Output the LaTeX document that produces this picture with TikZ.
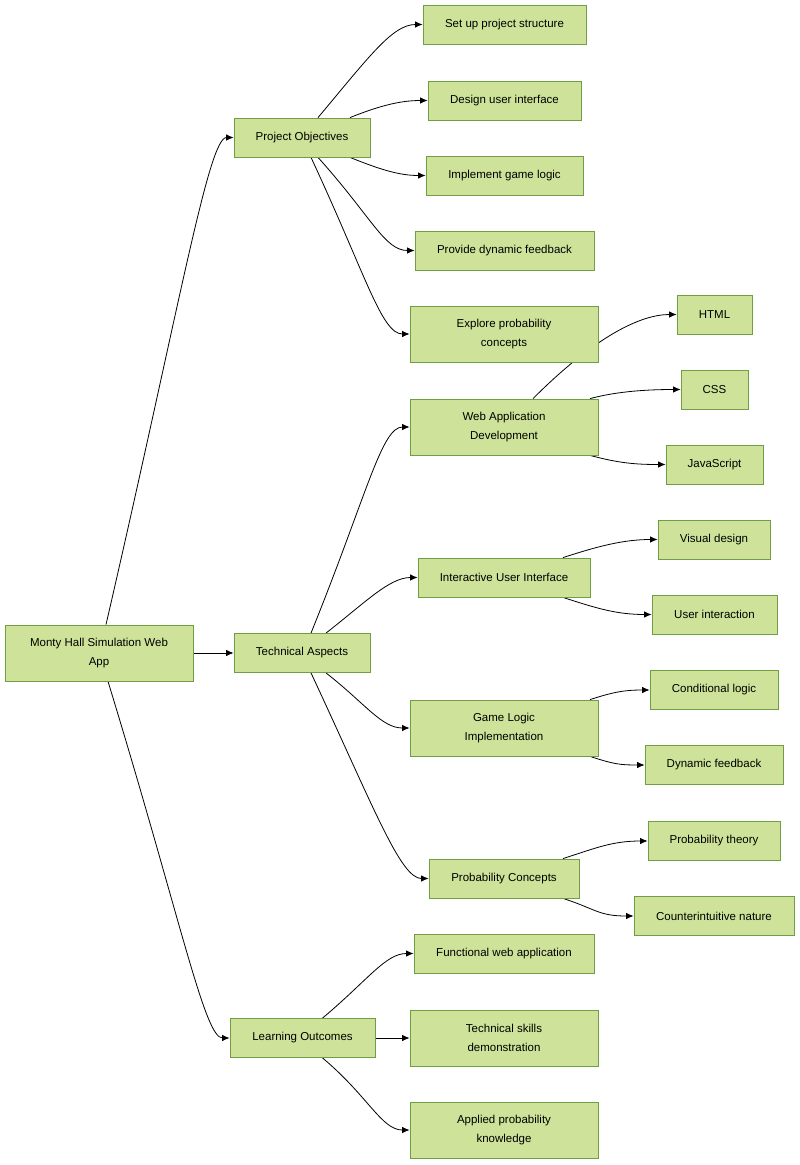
\documentclass[tikz,border=0pt]{standalone}
\usepackage{fontspec}
\setmainfont{Liberation Sans}
\usetikzlibrary{arrows.meta,backgrounds}
\definecolor{boxfill}{RGB}{206,227,153}
\definecolor{boxline}{RGB}{112,158,68}
\begin{document}
\begin{tikzpicture}[x=1pt, y=-1pt,
  box/.style={draw=boxline, fill=boxfill, line width=0.8pt, align=center, inner sep=0pt,
    minimum height=39pt, font=\fontsize{11.5}{18.5}\selectfont},
  tall/.style={minimum height=56pt},
  link/.style={draw=black, line width=0.8pt, -{Latex[length=7.5pt,width=6.5pt]}}]
\useasboundingbox (0,0) rectangle (800,1165);
\node[box, tall, minimum width=188pt] (n0) at (99,653){Monty Hall Simulation Web\\App};
\node[box, minimum width=136pt] (n1) at (302,137.5){Project Objectives};
\node[box, minimum width=136pt] (n2) at (302,653){Technical Aspects};
\node[box, minimum width=145pt] (n3) at (302.5,1038){Learning Outcomes};
% project objectives
\node[box, minimum width=163pt] (n4) at (504.5,24.5){Set up project structure};
\node[box, minimum width=153pt] (n5) at (504.5,100.5){Design user interface};
\node[box, minimum width=157pt] (n6) at (504.5,175.5){Implement game logic};
\node[box, minimum width=179pt] (n7) at (504.5,250.5){Provide dynamic feedback};
\node[box, tall, minimum width=188pt] (n8) at (504,334){Explore probability\\concepts};
% technical aspects
\node[box, tall, minimum width=188pt] (n9) at (504,427){Web Application\\Development};
\node[box, minimum width=75pt] (n10) at (714.5,314.5){HTML};
\node[box, minimum width=67pt] (n11) at (714.5,389.5){CSS};
\node[box, minimum width=97pt] (n12) at (714.5,464.5){JavaScript};
\node[box, minimum width=172pt] (n13) at (504,577.5){Interactive User Interface};
\node[box, minimum width=112pt] (n14) at (714,539.5){Visual design};
\node[box, minimum width=125pt] (n15) at (714.5,614.5){User interaction};
\node[box, tall, minimum width=188pt] (n16) at (504,728){Game Logic\\Implementation};
\node[box, minimum width=128pt] (n17) at (714,690){Conditional logic};
\node[box, minimum width=138pt] (n18) at (714,765){Dynamic feedback};
\node[box, minimum width=150pt] (n19) at (504,878.5){Probability Concepts};
\node[box, minimum width=132pt] (n20) at (714,841){Probability theory};
\node[box, minimum width=160pt] (n21) at (714,916){Counterintuitive nature};
% learning outcomes
\node[box, minimum width=180pt] (n22) at (504,953.5){Functional web application};
\node[box, tall, minimum width=188pt] (n23) at (504,1038){Technical skills\\demonstration};
\node[box, tall, minimum width=188pt] (n24) at (504,1130){Applied probability\\knowledge};
\begin{scope}[on background layer]
\draw[link] ([xshift=7]n0.north) to[out=77,in=180,out distance=330pt,in distance=25pt] (n1.west);
\draw[link] (n0.east) -- (n2.west);
\draw[link] ([xshift=9]n0.south) to[out=-73,in=180,out distance=250pt,in distance=25pt] (n3.west);
\draw[link] ([xshift=16]n1.north) to[out=50,in=180,out distance=80pt,in distance=30pt] (n4.west);
\draw[link] ([xshift=48]n1.north) to[out=22,in=180,out distance=35pt,in distance=25pt] (n5.west);
\draw[link] ([xshift=48]n1.south) to[out=-22,in=180,out distance=35pt,in distance=25pt] (n6.west);
\draw[link] ([xshift=16]n1.south) to[out=-48,in=180,out distance=80pt,in distance=30pt] (n7.west);
\draw[link] ([xshift=9]n1.south) to[out=-65,in=180,out distance=130pt,in distance=28pt] (n8.west);
\draw[link] ([xshift=9]n2.north) to[out=68,in=180,out distance=150pt,in distance=28pt] (n9.west);
\draw[link] ([xshift=24]n2.north) to[out=38,in=180,out distance=50pt,in distance=28pt] (n13.west);
\draw[link] ([xshift=24]n2.south) to[out=-38,in=180,out distance=50pt,in distance=28pt] (n16.west);
\draw[link] ([xshift=9]n2.south) to[out=-65,in=180,out distance=150pt,in distance=28pt] (n19.west);
\draw[link] ([xshift=29]n9.north) to[out=45,in=180,out distance=90pt,in distance=35pt] (n10.west);
\draw[link] ([xshift=86]n9.north) to[out=15,in=180,out distance=30pt,in distance=30pt] (n11.west);
\draw[link] ([xshift=86]n9.south) to[out=-15,in=180,out distance=30pt,in distance=30pt] (n12.west);
\draw[link] ([xshift=59]n13.north) to[out=18,in=180,out distance=35pt,in distance=35pt] (n14.west);
\draw[link] ([xshift=59]n13.south) to[out=-18,in=180,out distance=35pt,in distance=35pt] (n15.west);
\draw[link] ([xshift=86]n16.north) to[out=18,in=180,out distance=25pt,in distance=25pt] (n17.west);
\draw[link] ([xshift=86]n16.south) to[out=-18,in=180,out distance=25pt,in distance=25pt] (n18.west);
\draw[link] ([xshift=59]n19.north) to[out=18,in=180,out distance=35pt,in distance=35pt] (n20.west);
\draw[link] ([xshift=59]n19.south) to[out=-18,in=180,out distance=35pt,in distance=35pt] (n21.west);
\draw[link] ([xshift=20]n3.north) to[out=40,in=180,out distance=60pt,in distance=28pt] (n22.west);
\draw[link] (n3.east) -- (n23.west);
\draw[link] ([xshift=20]n3.south) to[out=-40,in=180,out distance=60pt,in distance=28pt] (n24.west);
\end{scope}
\end{tikzpicture}
\end{document}
